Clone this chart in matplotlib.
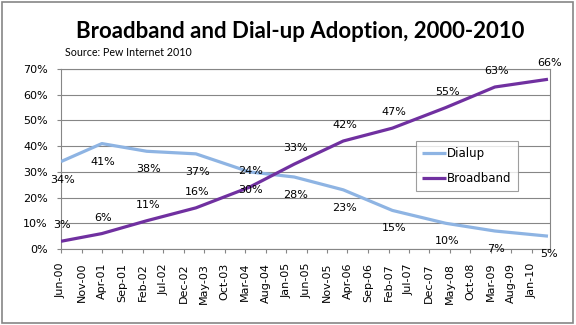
import matplotlib
matplotlib.use("Agg")
import matplotlib.pyplot as plt
import matplotlib.dates as mdates
from matplotlib.patches import Rectangle
from matplotlib.ticker import FuncFormatter
import pandas as pd

# Survey dates (month of each Pew survey)
survey_dates = ["2000-06", "2001-04", "2002-03", "2003-03", "2004-04", "2005-03",
                "2006-03", "2007-03", "2008-04", "2009-04", "2010-05"]
# Share of adults with each connection type at home (%)
dialup = [34, 41, 38, 37, 30, 28, 23, 15, 10, 7, 5]
broadband = [3, 6, 11, 16, 24, 33, 42, 47, 55, 63, 66]
series_names = ["Dialup", "Broadband"]

title = "Broadband and Dial-up Adoption, 2000-2010"
source = "Source: Pew Internet 2010"
y_ticks = [0, 10, 20, 30, 40, 50, 60, 70]

dates = pd.to_datetime(survey_dates)
tick_dates = pd.date_range("2000-06-01", "2010-01-01", freq="5MS")

GRAY = "#868686"
DIAL_C = "#8EB4E3"
BROAD_C = "#7030A0"
LABEL_FONT = "DejaVu Sans"

fig = plt.figure(figsize=(5.76, 3.25), dpi=100)
ax = fig.add_axes([61 / 576, 76 / 325, 489 / 576, 180 / 325])

ax.plot(dates, dialup, color=DIAL_C, lw=2.3, label=series_names[0],
        solid_capstyle="butt", zorder=3)
ax.plot(dates, broadband, color=BROAD_C, lw=2.3, label=series_names[1],
        solid_capstyle="butt", zorder=4)

# Value labels: dial-up below each point, broadband above
for d, v in zip(dates, dialup):
    ax.annotate(f"{v}%", (d, v), xytext=(1, -13), textcoords="offset points",
                ha="center", va="center", fontsize=8, family=LABEL_FONT,
                color="black", zorder=5)
for d, v in zip(dates, broadband):
    ax.annotate(f"{v}%", (d, v), xytext=(1, 11.5), textcoords="offset points",
                ha="center", va="center", fontsize=8, family=LABEL_FONT,
                color="black", zorder=5)

ax.set_xlim(dates[0], dates[-1] + pd.Timedelta(days=15))
ax.set_ylim(0, 70)

ax.set_yticks(y_ticks)
ax.yaxis.set_major_formatter(FuncFormatter(lambda v, p: f"{int(v)}%"))
ax.set_xticks(tick_dates)
ax.xaxis.set_major_formatter(mdates.DateFormatter("%b-%y"))

for lab in ax.get_xticklabels():
    lab.set_rotation(90)
    lab.set_family(LABEL_FONT)
    lab.set_fontsize(8)
for lab in ax.get_yticklabels():
    lab.set_family(LABEL_FONT)
    lab.set_fontsize(8)

ax.tick_params(axis="both", direction="out", length=3, width=0.8, color=GRAY,
               labelcolor="black")
ax.tick_params(axis="y", pad=6.5)
ax.tick_params(axis="x", pad=7)

ax.grid(axis="y", color=GRAY, lw=0.8)
ax.set_axisbelow(True)
for s in ax.spines.values():
    s.set_color(GRAY)
    s.set_linewidth(0.8)

leg = ax.legend(loc="upper left", bbox_to_anchor=((416 - 61) / 489, (249 - 141) / 180),
                borderaxespad=0, frameon=True, fancybox=False, shadow=False,
                prop={"family": LABEL_FONT, "size": 8.5}, handlelength=2.0,
                handletextpad=0.1, labelspacing=0.95, borderpad=0.55)
leg.get_frame().set_edgecolor(GRAY)
leg.get_frame().set_linewidth(0.8)

fig.text(300 / 576, 1 - 38 / 325, title, ha="center", va="baseline",
         fontsize=16, fontweight="bold", family="Lato", color="black")
fig.text(65 / 576, 1 - 53 / 325, source, ha="left", va="center",
         fontsize=7.7, family="Lato", color="black")

# Chart border
fig.add_artist(Rectangle((1.5 / 576, 2.5 / 325), 571.5 / 576, 321 / 325,
                         transform=fig.transFigure, fill=False,
                         edgecolor=GRAY, lw=1.2))

fig.savefig("out.png", dpi=100)
